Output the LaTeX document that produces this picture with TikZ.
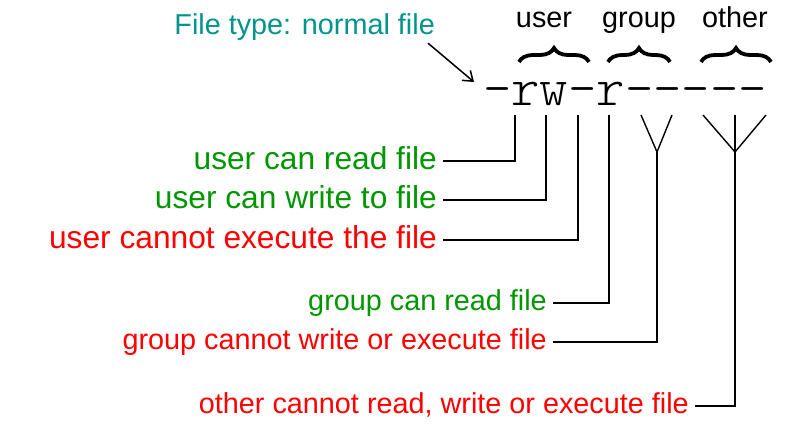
\documentclass[tikz,border=0pt]{standalone}
\usepackage{fontspec}
\setmainfont{Liberation Sans}
\newfontfamily\permfont{lmmonolt10-regular.otf}
\usepackage{xcolor}
\usetikzlibrary{arrows.meta,decorations.pathreplacing}
\definecolor{typeteal}{RGB}{0,148,138}
\definecolor{cangreen}{RGB}{0,150,0}
\definecolor{cannotred}{RGB}{255,0,0}

\begin{document}
\begin{tikzpicture}[
  x=1pt,
  y=-1pt,
  every node/.style={font=\fontsize{28.8}{34}\selectfont,inner sep=0pt},
  lbl/.style={anchor=east,text height=15pt,text depth=0pt},
  biglbl/.style={lbl,font=\fontsize{31.7}{36}\selectfont,text height=16.4pt},
  canlbl/.style={text=cangreen},
  cannotlbl/.style={text=cannotred},
  wire/.style={draw=black,line width=1.4pt},
  bracemark/.style={
    draw=black,
    line width=3.8pt,
    decorate,
    decoration={brace,amplitude=14pt}
  }
]
\useasboundingbox (0,0) rectangle (792,425);

% Permission string and its three classes.
\node[font=\permfont\fontsize{54}{56}\selectfont,anchor=base] (perm) at (625,106) {-rw-r-----};

\draw[bracemark] (519,62) -- (589,62);
\draw[bracemark] (608,62) -- (670,62);
\draw[bracemark] (701,62) -- (771,62);
\node[anchor=base] (usercap) at (544,28) {user};
\node[anchor=base] (groupcap) at (639,28) {group};
\node[anchor=base] (othercap) at (735,28) {other};

% File type pointer.
\node[anchor=base east,text=typeteal] (ftype) at (435,35) {File type: normal file};
\coordinate (ftip) at (474,82);
\draw[wire,line width=1.5pt,-{Straight Barb[length=9pt,width=13pt]}]
  ([shift={(-7,2)}]ftype.south east) -- (ftip);

% Tops of the leader lines under the permission bits.
\coordinate (ur) at (515,115);
\coordinate (uw) at (546,115);
\coordinate (ux) at (578,115);
\coordinate (gr) at (609,115);
\coordinate (gw) at (641,115);
\coordinate (gx) at (672,115);
\coordinate (gj) at (657,152);
\coordinate (ot1) at (703,115);
\coordinate (ot2) at (735,115);
\coordinate (ot3) at (766,115);
\coordinate (oj) at (735,152);

% Explanations.
\node[biglbl,canlbl] (urlbl) at (437,161) {user can read file};
\node[biglbl,canlbl] (uwlbl) at (437,200) {user can write to file};
\node[biglbl,cannotlbl] (uxlbl) at (437,240) {user cannot execute the file};
\node[lbl,canlbl] (grlbl) at (547,303) {group can read file};
\node[lbl,cannotlbl] (gwxlbl) at (547,342) {group cannot write or execute file};
\node[lbl,cannotlbl] (olbl) at (689,406) {other cannot read, write or execute file};

\draw[wire] ([xshift=6]urlbl.east) -| (ur);
\draw[wire] ([xshift=6]uwlbl.east) -| (uw);
\draw[wire] ([xshift=6]uxlbl.east) -| (ux);
\draw[wire] ([xshift=6]grlbl.east) -| (gr);
\draw[wire] (gw) -- (gj) -- (gx);
\draw[wire] ([xshift=6]gwxlbl.east) -| (gj);
\draw[wire] (ot1) -- (oj) -- (ot3);
\draw[wire] ([xshift=6]olbl.east) -| (ot2);

\end{tikzpicture}
\end{document}
